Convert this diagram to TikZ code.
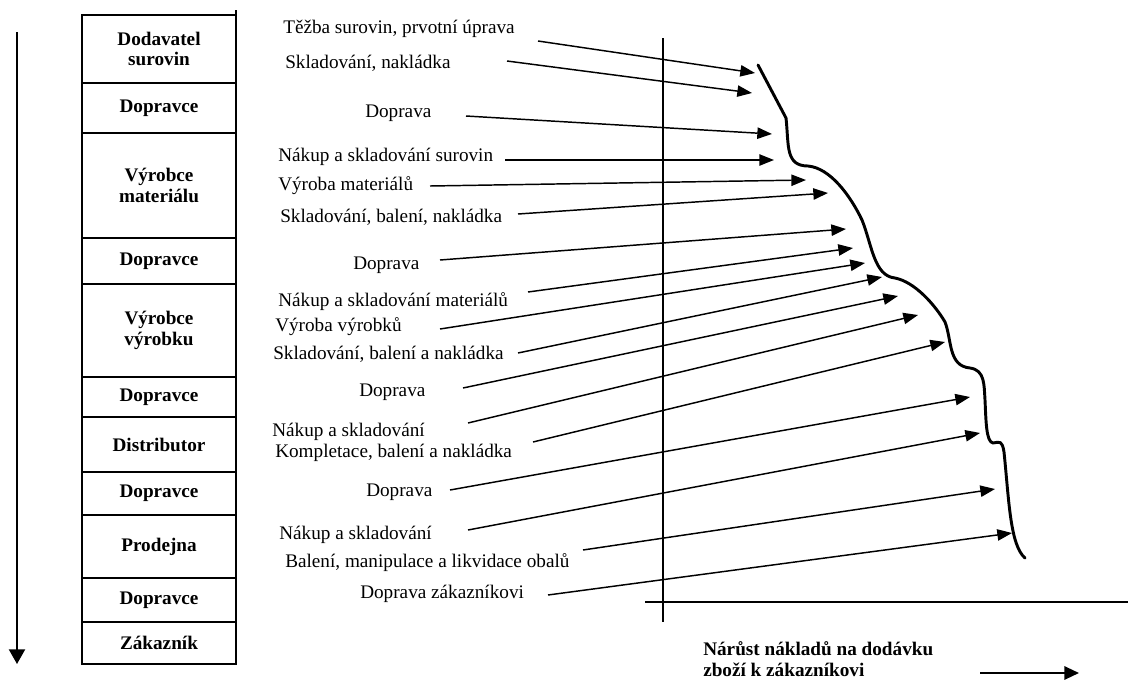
\documentclass[tikz,border=0pt]{standalone}
\usepackage{fontspec}
\setmainfont{Liberation Serif}
\usetikzlibrary{arrows.meta}
\begin{document}
\begin{tikzpicture}[x=0.75pt,y=-0.75pt,
  box/.style={draw, line width=1pt, minimum width=115.5pt, inner sep=0pt, outer sep=0pt,
    align=center, font=\fontsize{14.4}{15.5}\selectfont\bfseries},
  lab/.style={anchor=west, inner sep=0pt, font=\fontsize{14.4}{17}\selectfont},
  arr/.style={line width=1.1pt, -{Triangle[length=11pt,width=8.5pt]}},
  axis/.style={line width=1.6pt},
  costcurve/.style={line width=2.2pt, line join=round, line cap=round}]
\useasboundingbox (0,0) rectangle (1128,682);
% left downward arrow
\coordinate (va) at (17,32);
\coordinate (vb) at (17,664);
\draw[line width=1.6pt, -{Triangle[length=11pt,width=12pt]}] (va) -- (vb);
% boxes
\node[box, minimum height=51pt]    (b1)  at (159,49)    {Dodavatel\\surovin};
\node[box, minimum height=37.5pt]  (b2)  at (159,108)   {Dopravce};
\node[box, minimum height=78.75pt] (b3)  at (159,185.5) {Výrobce\\materiálu};
\node[box, minimum height=34.5pt]  (b4)  at (159,261)   {Dopravce};
\node[box, minimum height=69.75pt] (b5)  at (159,330.5) {Výrobce\\výrobku};
\node[box, minimum height=30pt]    (b6)  at (159,397)   {Dopravce};
\node[box, minimum height=41.25pt] (b7)  at (159,444.5) {Distributor};
\node[box, minimum height=32.25pt] (b8)  at (159,493.5) {Dopravce};
\node[box, minimum height=47.25pt] (b9)  at (159,546.5) {Prodejna};
\node[box, minimum height=33pt]    (b10) at (159,600)   {Dopravce};
\node[box, minimum height=31.5pt]  (b11) at (159,643)   {Zákazník};
\coordinate (ra) at (236,10);
\coordinate (rb) at (236,665);
\draw[line width=2pt] (ra) -- (rb);
% axes
\coordinate (ya) at (663,38);
\coordinate (yb) at (663,622);
\coordinate (xa) at (645,602);
\coordinate (xb) at (1128,602);
\draw[axis] (ya) -- (yb);
\draw[axis] (xa) -- (xb);
% labels
\node[lab] (l1)  at (283,29)  {Těžba surovin, prvotní úprava};
\node[lab] (l2)  at (285,63)  {Skladování, nakládka};
\node[lab] (l3)  at (365,113) {Doprava};
\node[lab] (l4)  at (278,157) {Nákup a skladování surovin};
\node[lab] (l5)  at (278,186) {Výroba materiálů};
\node[lab] (l6)  at (280,217) {Skladování, balení, nakládka};
\node[lab] (l7)  at (353,265) {Doprava};
\node[lab] (l8)  at (278,302) {Nákup a skladování materiálů};
\node[lab] (l9)  at (275,327) {Výroba výrobků};
\node[lab] (l10) at (273,354) {Skladování, balení a nakládka};
\node[lab] (l11) at (359,392) {Doprava};
\node[lab] (l12) at (272,432) {Nákup a skladování};
\node[lab] (l13) at (275,453) {Kompletace, balení a nakládka};
\node[lab] (l14) at (366,492) {Doprava};
\node[lab] (l15) at (279,535) {Nákup a skladování};
\node[lab] (l16) at (285,563) {Balení, manipulace a likvidace obalů};
\node[lab] (l17) at (360,594) {Doprava zákazníkovi};
% arrow coordinates
\coordinate (s1) at (538,41);  \coordinate (t1) at (755,73);
\coordinate (s2) at (507,61);  \coordinate (t2) at (752,93);
\coordinate (s3) at (466,116); \coordinate (t3) at (772,134);
\coordinate (s4) at (505,160); \coordinate (t4) at (774,160);
\coordinate (s5) at (430,186); \coordinate (t5) at (806,180);
\coordinate (s6) at (518,214); \coordinate (t6) at (828,193);
\coordinate (s7) at (440,260); \coordinate (t7) at (846,229);
\coordinate (s8) at (528,292); \coordinate (t8) at (853,248);
\coordinate (s9) at (440,329); \coordinate (t9) at (865,263);
\coordinate (s10) at (518,353); \coordinate (t10) at (882,277);
\coordinate (s11) at (463,388); \coordinate (t11) at (898,296);
\coordinate (s12) at (468,423); \coordinate (t12) at (918,315);
\coordinate (s13) at (533,442); \coordinate (t13) at (945,342);
\coordinate (s14) at (450,490); \coordinate (t14) at (970,397);
\coordinate (s15) at (468,530); \coordinate (t15) at (980,433);
\coordinate (s16) at (583,550); \coordinate (t16) at (995,489);
\coordinate (s17) at (548,595); \coordinate (t17) at (1012,533);
\foreach \i in {1,...,17} { \draw[arr] (s\i) -- (t\i); }
% cost curve
\draw[costcurve] (758,65) -- (786,118)
  .. controls (789,145) and (785,166) .. (808,166)
  .. controls (830,168) and (850,195) .. (862,220)
  .. controls (872,245) and (874,276) .. (895,278)
  .. controls (915,282) and (935,305) .. (945,322)
  .. controls (952,340) and (948,366) .. (970,368)
  .. controls (985,370) and (984,385) .. (985,400)
  .. controls (986,420) and (986,442) .. (993,443)
  .. controls (1000,442) and (1002,440) .. (1004,452)
  .. controls (1009,500) and (1010,545) .. (1025,558);
% bottom label
\node[anchor=north west, inner sep=0pt, align=left, font=\fontsize{14.4}{15.8}\selectfont\bfseries]
  (bl) at (703,641) {Nárůst nákladů na dodávku\\zboží k zákazníkovi};
\coordinate (ba) at (980,673);
\coordinate (bb) at (1079,673);
\draw[line width=1.6pt, -{Triangle[length=11pt,width=10pt]}] (ba) -- (bb);
\end{tikzpicture}
\end{document}
